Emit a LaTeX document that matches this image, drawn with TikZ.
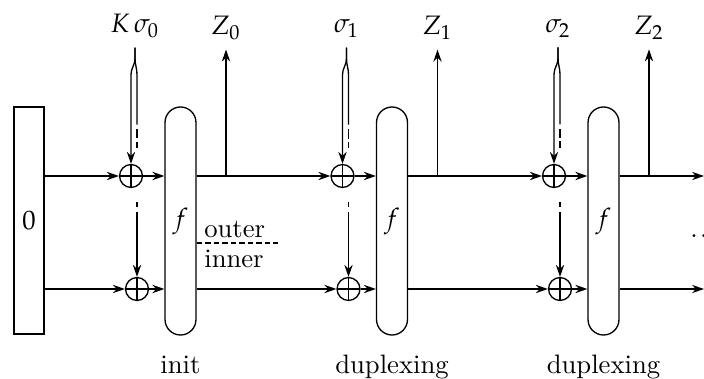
\documentclass[tikz,border=0pt]{standalone}
\usepackage{amsmath}
\usepackage{mathpazo}
\usepackage{tikz}
\usetikzlibrary{arrows.meta,positioning,calc}
\tikzset{
  statebox/.style={draw,minimum width=11.25pt,minimum height=85.1pt,inner sep=0pt},
  permbox/.style={draw,rounded corners=5.8pt,minimum width=11.6pt,
    minimum height=85.5pt,inner sep=0pt},
  xorgate/.style={draw,circle,minimum size=8.6pt,inner sep=0pt,
    path picture={\draw (path picture bounding box.north)--(path picture bounding box.south)
      (path picture bounding box.west)--(path picture bounding box.east);}},
  dataarrow/.style={-{Stealth[length=4.5pt,width=3.1pt]}},
  fadeout/.style={dash pattern=on 0pt off 1.8pt on 3.4pt off 1.2pt on 2.4pt off 20pt},
  fadein/.style={dash pattern=on 1.9pt off 1.9pt},
  splitline/.style={dash pattern=on 2pt off 1.2pt},
  iolabel/.style={anchor=base},
  phaselabel/.style={anchor=base}
}

\begin{document}
\begin{tikzpicture}[x=0.375pt,y=0.375pt,line width=0.5pt]
  \useasboundingbox (0,0) rectangle (704,378);
  % state and permutations
  \node[statebox] (zero) at (29,157.5) {$0$};
  \node[permbox] (f0) at (180.5,157) {$f$};
  \node[permbox] (f1) at (392,157) {$f$};
  \node[permbox] (f2) at (603.5,157) {$f$};
  % xor on outer and inner part
  \node[xorgate] (x0u) at (131,202) {};
  \node[xorgate] (x0l) at (137,89) {};
  \node[xorgate] (x1u) at (342.5,202) {};
  \node[xorgate] (x1l) at (348.5,89) {};
  \node[xorgate] (x2u) at (554,202) {};
  \node[xorgate] (x2l) at (560,89) {};
  % inputs and outputs
  \node[iolabel] (k0) at (135,345) {$K\,\sigma_0$};
  \node[iolabel] (k1) at (346.5,345) {$\sigma_1$};
  \node[iolabel] (k2) at (558,345) {$\sigma_2$};
  \node[iolabel] (z0) at (226,343) {$Z_0$};
  \node[iolabel] (z1) at (437.5,343) {$Z_1$};
  \node[iolabel] (z2) at (649,343) {$Z_2$};
  \coordinate (outu) at (704,202);
  \coordinate (outl) at (704,89);

  % input split: outer part solid, inner part fading behind the xor
  \draw[dataarrow] (k0.south) -- ++(0,-11) to[out=-90,in=90] ++(-4,-16) -- (x0u.north);
  \draw (k0.south) -- ++(0,-11) to[out=-90,in=90] ++(2,-16) -- ++(0,-50) coordinate (k0end);
  \draw[fadeout] (k0end) -- ++(0,-23.5);
  \draw[fadein] (x0l.north|-0,176) -- ++(0,-10) coordinate (k0mid);
  \draw[dataarrow] (k0mid) -- (x0l.north);

  \draw[dataarrow] (k1.south) -- ++(0,-11) to[out=-90,in=90] ++(-4,-16) -- (x1u.north);
  \draw (k1.south) -- ++(0,-11) to[out=-90,in=90] ++(2,-16) -- ++(0,-50) coordinate (k1end);
  \draw[fadeout] (k1end) -- ++(0,-23.5);
  \draw[fadein] (x1l.north|-0,176) -- ++(0,-10) coordinate (k1mid);
  \draw[dataarrow] (k1mid) -- (x1l.north);

  \draw[dataarrow] (k2.south) -- ++(0,-11) to[out=-90,in=90] ++(-4,-16) -- (x2u.north);
  \draw (k2.south) -- ++(0,-11) to[out=-90,in=90] ++(2,-16) -- ++(0,-50) coordinate (k2end);
  \draw[fadeout] (k2end) -- ++(0,-23.5);
  \draw[fadein] (x2l.north|-0,176) -- ++(0,-10) coordinate (k2mid);
  \draw[dataarrow] (k2mid) -- (x2l.north);

  % state lines
  \draw[dataarrow] (zero.east|-x0u) -- (x0u);
  \draw[dataarrow] (zero.east|-x0l) -- (x0l);
  \draw[dataarrow] (x0u) -- (x0u-|f0.west);
  \draw[dataarrow] (x0l) -- (x0l-|f0.west);
  \draw[dataarrow] (f0.east|-x1u) -- (x1u);
  \draw[dataarrow] (f0.east|-x1l) -- (x1l);
  \draw[dataarrow] (z0.south|-x1u) -- (z0.south);
  \draw[dataarrow] (x1u) -- (x1u-|f1.west);
  \draw[dataarrow] (x1l) -- (x1l-|f1.west);
  \draw[dataarrow] (f1.east|-x2u) -- (x2u);
  \draw[dataarrow] (f1.east|-x2l) -- (x2l);
  \draw[dataarrow] (z1.south|-x2u) -- (z1.south);
  \draw[dataarrow] (x2u) -- (x2u-|f2.west);
  \draw[dataarrow] (x2l) -- (x2l-|f2.west);
  \draw[dataarrow] (f2.east|-outu) -- (outu);
  \draw[dataarrow] (f2.east|-outl) -- (outl);
  \draw[dataarrow] (z2.south|-outu) -- (z2.south);

  % outer / inner split
  \coordinate (split) at (278,135);
  \draw[splitline] (f0.east|-split) -- (split);
  \node[anchor=base west,inner sep=1pt] (outer) at (201,141) {outer};
  \node[anchor=base west,inner sep=1pt] (inner) at (201,111) {inner};
  \node[anchor=base west,inner sep=0pt] (more) at (689.7,141) {.\kern0.9pt.\kern0.9pt.};

  % phases
  \node[phaselabel] (init) at (f0.south|-0,5) {init};
  \node[phaselabel] (dup1) at (f1.south|-0,5) {duplexing};
  \node[phaselabel] (dup2) at (f2.south|-0,5) {duplexing};
\end{tikzpicture}
\end{document}
